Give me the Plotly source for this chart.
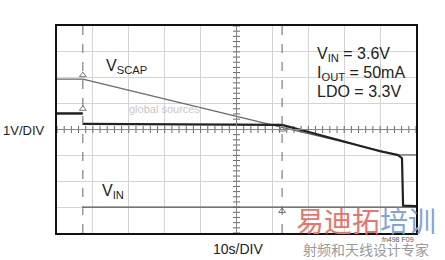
import numpy as np
import plotly.graph_objects as go

# ---- data (time in s, voltage in V) ----
vscap_t = [0, 7.2, 62.7, 90.0, 95.0, 100]
vscap_v = [4.95, 4.95, 3.08, 2.16, 2.02, 2.02]

vout_t = [7.2, 62.7, 90.0, 95.0, 96.1, 96.4, 100]
vout_v = [3.22, 3.18, 2.16, 2.01, 1.89, 0.06, 0.04]

vin_pre_t = [0, 7.2]
vin_pre_v = [3.62, 3.62]
vin_t = [7.2, 100]
vin_v = [0.0, 0.0]

cursor_t = [7.2, 62.7]
marker_t = [7.2, 7.2, 62.7, 62.7]
marker_v = [5.1, 3.8, 3.0, -0.15]

x_range = [0, 100]
y_range = [-1, 7]

fig = go.Figure()

# centre graticule tick marks
fig.add_trace(go.Scatter(x=[50] * 41, y=list(np.linspace(-1, 7, 41)), mode="markers",
                         marker=dict(symbol="line-ew", size=5, line=dict(color="#666", width=1)),
                         hoverinfo="skip", showlegend=False))
fig.add_trace(go.Scatter(x=list(np.linspace(0, 100, 51)), y=[3] * 51, mode="markers",
                         marker=dict(symbol="line-ns", size=5, line=dict(color="#666", width=1)),
                         hoverinfo="skip", showlegend=False))

fig.add_trace(go.Scatter(x=vscap_t, y=vscap_v, mode="lines",
                         line=dict(color="#6a6a6a", width=1.3), showlegend=False))
fig.add_trace(go.Scatter(x=vin_t, y=vin_v, mode="lines",
                         line=dict(color="#555", width=1.2), showlegend=False))
fig.add_trace(go.Scatter(x=vin_pre_t, y=vin_pre_v, mode="lines",
                         line=dict(color="#222", width=2.5), showlegend=False))
fig.add_trace(go.Scatter(x=vout_t, y=vout_v, mode="lines",
                         line=dict(color="#222", width=2.2), showlegend=False))
fig.add_trace(go.Scatter(x=marker_t, y=marker_v, mode="markers",
                         marker=dict(symbol="triangle-up-open", size=6, color="#777",
                                     line=dict(width=1)),
                         hoverinfo="skip", showlegend=False))

shapes = []
for t in cursor_t:
    shapes.append(dict(type="line", xref="x", yref="y", x0=t, x1=t, y0=y_range[0], y1=y_range[1],
                       line=dict(color="#666", width=1, dash="dash")))
# centre lines
shapes.append(dict(type="line", xref="x", yref="y", x0=50, x1=50, y0=y_range[0], y1=y_range[1],
                   line=dict(color="#888", width=1)))
shapes.append(dict(type="line", xref="x", yref="y", x0=0, x1=100, y0=3, y1=3,
                   line=dict(color="#888", width=1)))

font = "Liberation Sans"
ann = []
def add(text, x, y, size, xref="x", yref="y", xanchor="left", yanchor="middle", color="#222"):
    ann.append(dict(text=text, x=x, y=y, xref=xref, yref=yref, xanchor=xanchor, yanchor=yanchor,
                    showarrow=False, font=dict(family=font, size=size, color=color)))

add("V<sub>SCAP</sub>", 13.0, 5.45, 16)
add("V<sub>IN</sub>", 12.0, 0.62, 16)
add("V<sub>IN</sub> = 3.6V", 72.0, 5.9, 16)
add("I<sub>OUT</sub> = 50mA", 72.0, 5.18, 16)
add("LDO = 3.3V", 72.0, 4.45, 16)
add("global sources", 19.5, 3.8, 11, color="#c8c8c8")
add("1V/DIV", (24 - 57) / 359, (233 - 130) / 207, 13, xref="paper", yref="paper", xanchor="center")
add("10s/DIV", (238 - 57) / 359, (233 - 249) / 207, 14, xref="paper", yref="paper", xanchor="center")
add("fn498 F09", (398 - 57) / 359, (233 - 240) / 207, 7, xref="paper", yref="paper",
    xanchor="center", color="#555")
add("<span style='color:#e8746a'>易迪拓</span><span style='color:#7fa6d6'>培训</span>",
    (366 - 57) / 359, (233 - 220) / 207, 28, xref="paper", yref="paper", xanchor="center")
add("射频和天线设计专家", (366 - 57) / 359, (233 - 249) / 207, 14, xref="paper", yref="paper",
    xanchor="center", color="#9a9a9a")
for a in ann[-2:]:
    a["font"]["family"] = "Noto Sans CJK SC"

axis_common = dict(showline=True, linecolor="#111", linewidth=2, mirror=True,
                   showgrid=True, gridcolor="#d4d4d4", gridwidth=1, zeroline=False,
                   showticklabels=False, ticks="")
fig.update_xaxes(range=x_range, dtick=10, tick0=0, **axis_common)
fig.update_yaxes(range=y_range, dtick=1, tick0=-1, **axis_common)

fig.update_layout(width=445, height=260, margin=dict(l=57, r=29, t=26, b=27),
                  paper_bgcolor="white", plot_bgcolor="white",
                  shapes=shapes, annotations=ann, showlegend=False)

fig.write_html("out.html")
